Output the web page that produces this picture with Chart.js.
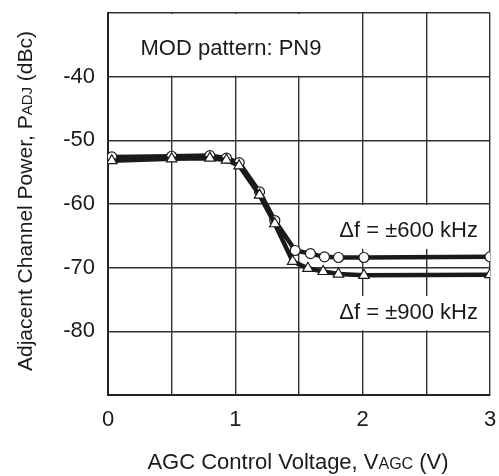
<!DOCTYPE html>
<html>
<head>
<meta charset="utf-8">
<script src="https://cdn.jsdelivr.net/npm/chart.js@4/dist/chart.umd.min.js"></script>
<style>
  html, body { margin: 0; padding: 0; background: #fff; }
  #wrap { width: 499px; height: 476px; }
</style>
</head>
<body>
<div id="wrap"><canvas id="acpChart" width="499" height="476"></canvas></div>
<script>
// AGC control voltage (V) and adjacent channel power (dBc)
const vagc600 = [0.03, 0.5, 0.8, 0.93, 1.03, 1.19, 1.31, 1.47, 1.59, 1.70, 1.81, 2.01, 3.0];
const padj600 = [-52.6, -52.5, -52.4, -52.8, -53.5, -58.1, -62.6, -67.3, -67.8, -68.3, -68.4, -68.4, -68.3];
const vagc900 = [0.03, 0.5, 0.8, 0.93, 1.03, 1.19, 1.31, 1.45, 1.57, 1.69, 1.81, 2.01, 3.0];
const padj900 = [-53.2, -52.9, -52.8, -53.1, -54.0, -58.6, -63.1, -69.0, -70.1, -70.6, -71.0, -71.2, -71.1];
const yTickLabels = [-40, -50, -60, -70, -80];
const xTickLabels = [0, 1, 2, 3];

const FONT = '"Liberation Sans", Arial, sans-serif';
const INK = '#1a1a1a';

function toPoints(xs, ys) {
    return xs.map((x, i) => ({ x: x, y: ys[i] }));
}

// text with a small-caps run, e.g. V + AGC
function drawParts(ctx, parts, x, y, align) {
    let total = 0;
    parts.forEach(p => {
        ctx.font = p.size + 'px ' + FONT;
        p.w = ctx.measureText(p.text).width;
        total += p.w;
    });
    let cx = align === 'center' ? x - total / 2 : x;
    ctx.textAlign = 'left';
    ctx.textBaseline = 'alphabetic';
    parts.forEach(p => {
        ctx.font = p.size + 'px ' + FONT;
        ctx.fillText(p.text, cx, y);
        cx += p.w;
    });
}

// keep the plot area fixed, no extra room for edge labels
function fixPadding(s) {
    s.paddingTop = 0;
    s.paddingBottom = 0;
    s.paddingLeft = 0;
    s.paddingRight = 0;
}

const labelBoxes = {
    id: 'labelBoxes',
    beforeDatasetsDraw(chart) {
        const ctx = chart.ctx;
        const xs = chart.scales.x;
        const ys = chart.scales.y;
        const box = (x0, x1, y0, y1) => {
            const l = xs.getPixelForValue(x0) + 1;
            const r = xs.getPixelForValue(x1) - 1;
            const t = ys.getPixelForValue(y0) + 1;
            const b = ys.getPixelForValue(y1) - 1;
            ctx.fillStyle = '#fff';
            ctx.fillRect(l, t, r - l, b - t);
        };
        ctx.save();
        box(0, 2, -30, -40);
        box(1.5, 3, -60, -67.2);
        box(1.5, 3, -74.3, -80);

        ctx.fillStyle = INK;
        ctx.font = '22px ' + FONT;
        ctx.textBaseline = 'alphabetic';
        ctx.textAlign = 'center';
        ctx.fillText('MOD pattern: PN9', 231, 55);
        ctx.textAlign = 'right';
        ctx.fillText('\u0394f = \u00b1600 kHz', 478, 237);
        ctx.fillText('\u0394f = \u00b1900 kHz', 478, 319);
        ctx.restore();
    },
    afterDraw(chart) {
        const ctx = chart.ctx;
        ctx.save();
        ctx.fillStyle = INK;
        drawParts(ctx, [
            { text: 'AGC Control Voltage, V', size: 22 },
            { text: 'AGC', size: 16 },
            { text: ' (V)', size: 22 }
        ], 298, 469, 'center');
        ctx.translate(32, 201);
        ctx.rotate(-Math.PI / 2);
        drawParts(ctx, [
            { text: 'Adjacent Channel Power, P', size: 21 },
            { text: 'ADJ', size: 15 },
            { text: ' (dBc)', size: 21 }
        ], 0, 0, 'center');
        ctx.restore();
    }
};

new Chart(document.getElementById('acpChart'), {
    type: 'scatter',
    data: {
        datasets: [
            {
                label: '\u0394f = \u00b1900 kHz',
                data: toPoints(vagc900, padj900),
                showLine: true,
                borderColor: INK,
                borderWidth: 4.5,
                pointStyle: 'triangle',
                pointRadius: 6,
                pointBackgroundColor: '#fff',
                pointBorderColor: INK,
                pointBorderWidth: 1.2
            },
            {
                label: '\u0394f = \u00b1600 kHz',
                data: toPoints(vagc600, padj600),
                showLine: true,
                borderColor: INK,
                borderWidth: 4.5,
                pointStyle: 'circle',
                pointRadius: 5,
                pointBackgroundColor: '#fff',
                pointBorderColor: INK,
                pointBorderWidth: 1.2
            }
        ]
    },
    options: {
        responsive: false,
        animation: false,
        layout: { padding: { top: 13, right: 9, left: 0, bottom: 0 } },
        plugins: {
            legend: { display: false },
            tooltip: { enabled: false }
        },
        scales: {
            x: {
                type: 'linear',
                min: 0,
                max: 3,
                afterFit: s => { s.height = 81; fixPadding(s); },
                ticks: {
                    stepSize: 0.5,
                    padding: 12,
                    color: INK,
                    font: { family: FONT, size: 22 },
                    maxRotation: 0,
                    callback: v => xTickLabels.includes(v) ? String(v) : ''
                },
                grid: { color: '#333', lineWidth: 1.4, drawTicks: false },
                border: { color: '#222', width: 2 }
            },
            y: {
                type: 'linear',
                min: -90,
                max: -30,
                afterFit: s => { s.width = 108; fixPadding(s); },
                ticks: {
                    stepSize: 10,
                    padding: 13,
                    color: INK,
                    font: { family: FONT, size: 22 },
                    callback: v => yTickLabels.includes(v) ? String(v) : ''
                },
                grid: { color: '#333', lineWidth: 1.4, drawTicks: false },
                border: { color: '#222', width: 2 }
            }
        }
    },
    plugins: [labelBoxes]
});
</script>
</body>
</html>
